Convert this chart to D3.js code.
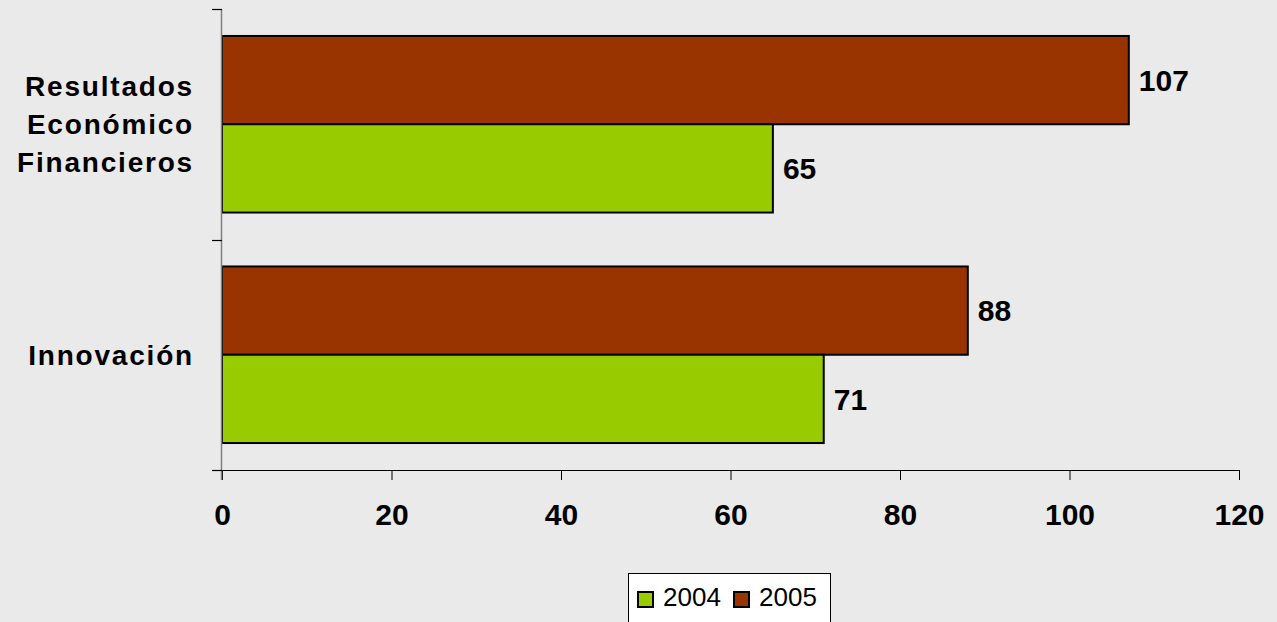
<!DOCTYPE html>
<html><head><meta charset="utf-8">
<script src="https://cdn.jsdelivr.net/npm/d3@7"></script>
<style>html,body{margin:0;padding:0;background:#eaeaea;}svg{display:block;}</style>
</head><body>
<svg id="c" width="1277" height="622"></svg>
<script>
const categories = ["Resultados Económico Financieros", "Innovación"];
const categoryLines = [["Resultados", "Económico", "Financieros"], ["Innovación"]];
const seriesNames = ["2005", "2004"];
const values2005 = [107, 88];
const values2004 = [65, 71];
const xTicks = [0, 20, 40, 60, 80, 100, 120];
const legendOrder = ["2004", "2005"];
const colors = {"2004": "#99cc00", "2005": "#993300"};

const svg = d3.select("#c");
svg.append("rect").attr("width", 1277).attr("height", 622).attr("fill", "#eaeaea");

const x = d3.scaleLinear().domain([0, 120]).range([222, 1239]);
const y = d3.scaleBand().domain(categories).range([9, 470]).padding(0);
const bw = y.bandwidth();
const sub = d3.scaleBand().domain(seriesNames).range([bw * 0.117, bw * 0.883]).padding(0);

const data = categories.map((c, i) => ({cat: c, vals: [{s: "2005", v: values2005[i]}, {s: "2004", v: values2004[i]}]}));

const g = svg.append("g");
data.forEach(d => {
  d.vals.forEach(b => {
    const y0 = y(d.cat) + sub(b.s);
    g.append("rect")
      .attr("x", x(0)).attr("y", y0)
      .attr("width", x(b.v) - x(0)).attr("height", sub.bandwidth())
      .attr("fill", colors[b.s]).attr("stroke", "#000").attr("stroke-width", 2);
    g.append("text")
      .attr("x", x(b.v) + 10).attr("y", y0 + sub.bandwidth() / 2)
      .attr("dy", "0.36em")
      .attr("font-family", "Liberation Sans, Arial, sans-serif")
      .attr("font-weight", "bold").attr("font-size", 30)
      .attr("fill", "#000").text(b.v);
  });
});

// x axis
const xAxis = d3.axisBottom(x).tickValues(xTicks).tickSize(10).tickSizeOuter(0).tickPadding(24);
const xa = svg.append("g").attr("transform", "translate(0,470)").call(xAxis);
xa.select(".domain").remove();
xa.selectAll(".tick line").attr("stroke", "#000").attr("stroke-width", 1);
xa.selectAll(".tick text").attr("font-family", "Liberation Sans, Arial, sans-serif")
  .attr("font-weight", "bold").attr("font-size", 30).attr("fill", "#000");
svg.append("line").attr("x1", 212).attr("x2", x(120)).attr("y1", 470.5).attr("y2", 470.5)
  .attr("stroke", "#000").attr("stroke-width", 1.2);

// y axis
svg.append("line").attr("x1", 221.5).attr("x2", 221.5).attr("y1", 9).attr("y2", 480)
  .attr("stroke", "#808080").attr("stroke-width", 1.5);
const yTickPos = [9, ...categories.map(c => y(c) + bw)];
yTickPos.forEach(p => {
  svg.append("line").attr("x1", 212).attr("x2", 222).attr("y1", Math.round(p) + 0.5).attr("y2", Math.round(p) + 0.5)
    .attr("stroke", "#000").attr("stroke-width", 1.2);
});

// category labels
categories.forEach((c, i) => {
  const lines = categoryLines[i];
  const cy = y(c) + bw / 2;
  const lh = 38;
  lines.forEach((ln, j) => {
    svg.append("text")
      .attr("x", 194)
      .attr("y", cy + (j - (lines.length - 1) / 2) * lh)
      .attr("dy", "0.36em")
      .attr("text-anchor", "end")
      .attr("font-family", "Liberation Sans, Arial, sans-serif")
      .attr("font-weight", "bold").attr("font-size", 28)
      .attr("letter-spacing", "1.8px")
      .attr("fill", "#000").text(ln);
  });
});

// legend
const lg = svg.append("g");
lg.append("rect").attr("x", 628.5).attr("y", 573.5).attr("width", 202).attr("height", 60)
  .attr("fill", "#fff").attr("stroke", "#000").attr("stroke-width", 1);
const legendX = [638, 734];
legendOrder.forEach((s, i) => {
  lg.append("rect").attr("x", legendX[i]).attr("y", 592).attr("width", 15).attr("height", 15)
    .attr("fill", colors[s]).attr("stroke", "#000").attr("stroke-width", 2);
  lg.append("text").attr("x", legendX[i] + 25).attr("y", 606)
    .attr("font-family", "Liberation Sans, Arial, sans-serif")
    .attr("font-size", 26).attr("fill", "#000").text(s);
});
</script>
</body></html>
